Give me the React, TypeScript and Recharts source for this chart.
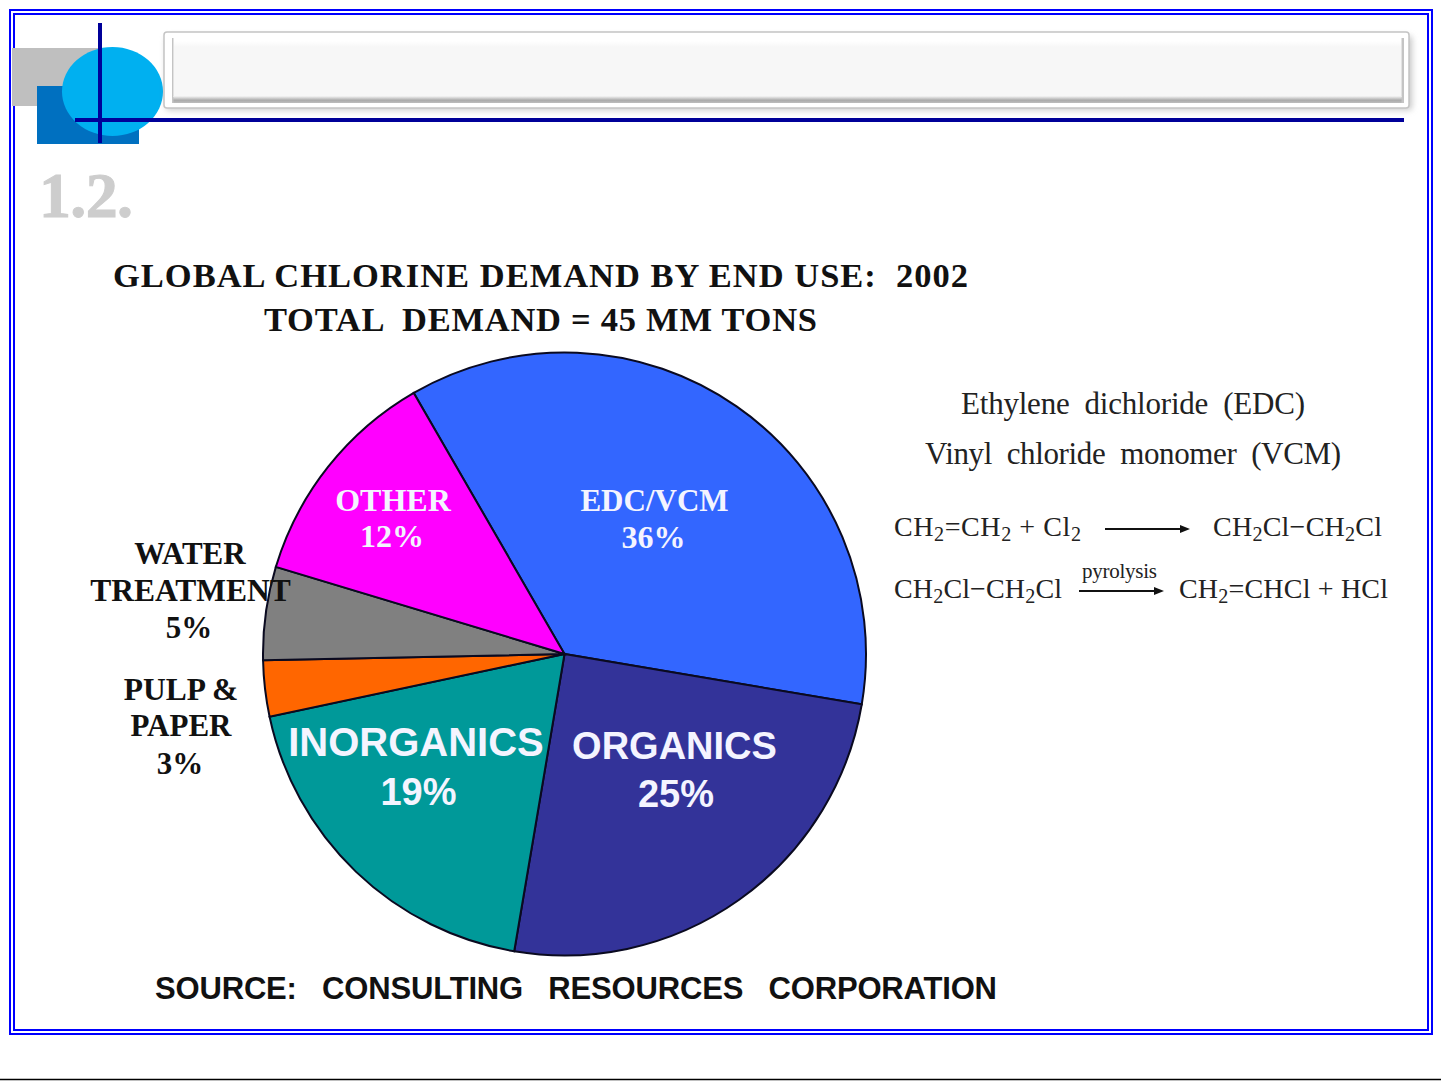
import { PieChart, Pie, Cell } from "recharts";

const categories = ["EDC/VCM", "ORGANICS", "INORGANICS", "PULP & PAPER", "WATER TREATMENT", "OTHER"];
const shares = [36, 25, 19, 3, 5, 12];
const colors = ["#3366ff", "#333399", "#009999", "#ff6600", "#808080", "#ff00ff"];

const pieData = categories.map((name, i) => ({ name, value: shares[i] }));

const SERIF = "'Liberation Serif', serif";
const SANS = "'Liberation Sans', sans-serif";
const NAVY = "#000099";

function Sub({ children }: { children: string }) {
  return (
    <tspan fontSize="0.72em" dy="5">
      {children}
    </tspan>
  );
}

export default function App() {
  return (
    <div style={{ position: "absolute", left: 0, top: 0, width: 1441, height: 1081, background: "#fff" }}>
      <PieChart width={1441} height={1081} margin={{ top: 0, right: 0, bottom: 0, left: 0 }}>
        <defs>
          <filter id="boxShadow" x="-5%" y="-30%" width="110%" height="160%">
            <feGaussianBlur stdDeviation="3" />
          </filter>
          <linearGradient id="bevel" x1="0" x2="0" y1="0" y2="1">
            <stop offset="0" stopColor="#f7f7f7" />
            <stop offset="0.6" stopColor="#aaaaaa" />
            <stop offset="1" stopColor="#bdbdbd" />
          </linearGradient>
          <linearGradient id="topFade" x1="0" x2="0" y1="0" y2="1">
            <stop offset="0" stopColor="#ffffff" />
            <stop offset="1" stopColor="#f7f7f7" />
          </linearGradient>
        </defs>

        {/* slide frame */}
        <rect x={10} y={10} width={1422} height={1024} fill="none" stroke="#0000ff" strokeWidth={2} />
        <rect x={14} y={14} width={1414} height={1016} fill="none" stroke="#0000ff" strokeWidth={2} />
        <line x1={0} x2={1441} y1={1079.5} y2={1079.5} stroke="#000" strokeWidth={1.5} />

        {/* header decoration */}
        <rect x={12} y={48} width={90} height={58} fill="#bfbfbf" />
        <rect x={37} y={86} width={102} height={58} fill="#0070c0" />
        <ellipse cx={112.5} cy={91.5} rx={50.5} ry={44.5} fill="#00b0f0" />
        <rect x={166} y={36} width={1246} height={74} rx={3} fill="#999" opacity={0.55} filter="url(#boxShadow)" />
        <rect x={164} y={32} width={1245} height={76} rx={3} fill="#fff" stroke="#c4c4c4" strokeWidth={1.5} />
        <rect x={172} y={38} width={1232} height={65} fill="#c4c4c4" />
        <rect x={173.5} y={38} width={1228} height={59} fill="#fff" />
        <rect x={174} y={41} width={1227} height={6} fill="url(#topFade)" />
        <rect x={174} y={47} width={1227} height={49} fill="#f7f7f7" />
        <rect x={173.5} y={96} width={1228} height={7} fill="url(#bevel)" />
        <rect x={98} y={23} width={4} height={120} fill={NAVY} />
        <rect x={75} y={118} width={1329} height={4} fill={NAVY} />

        <Pie
          data={pieData}
          dataKey="value"
          nameKey="name"
          cx={564.5}
          cy={654}
          innerRadius={0}
          outerRadius={301.5}
          startAngle={120}
          endAngle={-240}
          stroke="#0a0a20"
          strokeWidth={2}
          isAnimationActive={false}
        >
          {pieData.map((entry, i) => (
            <Cell key={entry.name} fill={colors[i]} />
          ))}
        </Pie>
      </PieChart>

      {/* all the text sits above the pie */}
      <svg width={1441} height={1081} style={{ position: "absolute", left: 0, top: 0, pointerEvents: "none" }}>
        <text x={39} y={217} fontFamily={SERIF} fontWeight="bold" fontSize={64} fill="#cdcdcd" stroke="#cdcdcd" strokeWidth={1} textLength={94}>
          1.2.
        </text>

        <text x={113} y={287} fontFamily={SERIF} fontWeight="bold" fontSize={34.5} fill="#111" textLength={855} xmlSpace="preserve">
          GLOBAL CHLORINE DEMAND BY END USE:  2002
        </text>
        <text x={264} y={331} fontFamily={SERIF} fontWeight="bold" fontSize={34.5} fill="#111" textLength={553} xmlSpace="preserve">
          TOTAL  DEMAND = 45 MM TONS
        </text>

        {/* slice labels */}
        <g fontFamily={SERIF} fontWeight="bold" fontSize={32} fill="#f4f4ff" textAnchor="middle">
          <text x={654.5} y={511} fontSize={31}>EDC/VCM</text>
          <text x={653.5} y={548}>36%</text>
          <text x={393} y={511}>OTHER</text>
          <text x={392} y={547}>12%</text>
        </g>
        <g fontFamily={SANS} fontWeight="bold" fontSize={38} fill="#f4f4ff" textAnchor="middle">
          <text x={416} y={756} fontSize={40}>INORGANICS</text>
          <text x={418.5} y={805}>19%</text>
          <text x={674.5} y={759}>ORGANICS</text>
          <text x={676} y={807}>25%</text>
        </g>
        <g fontFamily={SERIF} fontWeight="bold" fontSize={31} fill="#111" textAnchor="middle">
          <text x={190} y={564}>WATER</text>
          <text x={190.5} y={601} fontSize={31.5}>TREATMENT</text>
          <text x={189} y={638}>5%</text>
          <text x={181} y={700} fontSize={31.5}>PULP &amp;</text>
          <text x={181} y={736}>PAPER</text>
          <text x={180} y={774}>3%</text>
        </g>

        {/* reaction notes */}
        <g fontFamily={SERIF} fontSize={31} fill="#222">
          <text x={961} y={414} textLength={344} xmlSpace="preserve">Ethylene  dichloride  (EDC)</text>
          <text x={925} y={464} textLength={416} xmlSpace="preserve">Vinyl  chloride  monomer  (VCM)</text>
        </g>
        <g fontFamily={SERIF} fontSize={28} fill="#222">
          <text x={894} y={536} textLength={187}>
            CH<Sub>2</Sub><tspan dy="-5">=CH</tspan><Sub>2</Sub><tspan dy="-5"> + Cl</tspan><Sub>2</Sub>
          </text>
          <text x={1213} y={536} textLength={169}>
            CH<Sub>2</Sub><tspan dy="-5">Cl−CH</tspan><Sub>2</Sub><tspan dy="-5">Cl</tspan>
          </text>
          <text x={894} y={598} textLength={168}>
            CH<Sub>2</Sub><tspan dy="-5">Cl−CH</tspan><Sub>2</Sub><tspan dy="-5">Cl</tspan>
          </text>
          <text x={1179} y={598} textLength={209}>
            CH<Sub>2</Sub><tspan dy="-5">=CHCl + HCl</tspan>
          </text>
          <text x={1082} y={578} fontSize={21} textLength={75}>pyrolysis</text>
        </g>
        <line x1={1105} x2={1186} y1={529} y2={529} stroke="#111" strokeWidth={2} />
        <path d="M1180 525 L1190 529 L1180 533 Z" fill="#111" />
        <line x1={1079} x2={1160} y1={591} y2={591} stroke="#111" strokeWidth={2} />
        <path d="M1154 587 L1164 591 L1154 595 Z" fill="#111" />

        <text x={155} y={999} fontFamily={SANS} fontWeight="bold" fontSize={31} fill="#111" textLength={842} xmlSpace="preserve">
          SOURCE:   CONSULTING   RESOURCES   CORPORATION
        </text>
      </svg>
    </div>
  );
}
